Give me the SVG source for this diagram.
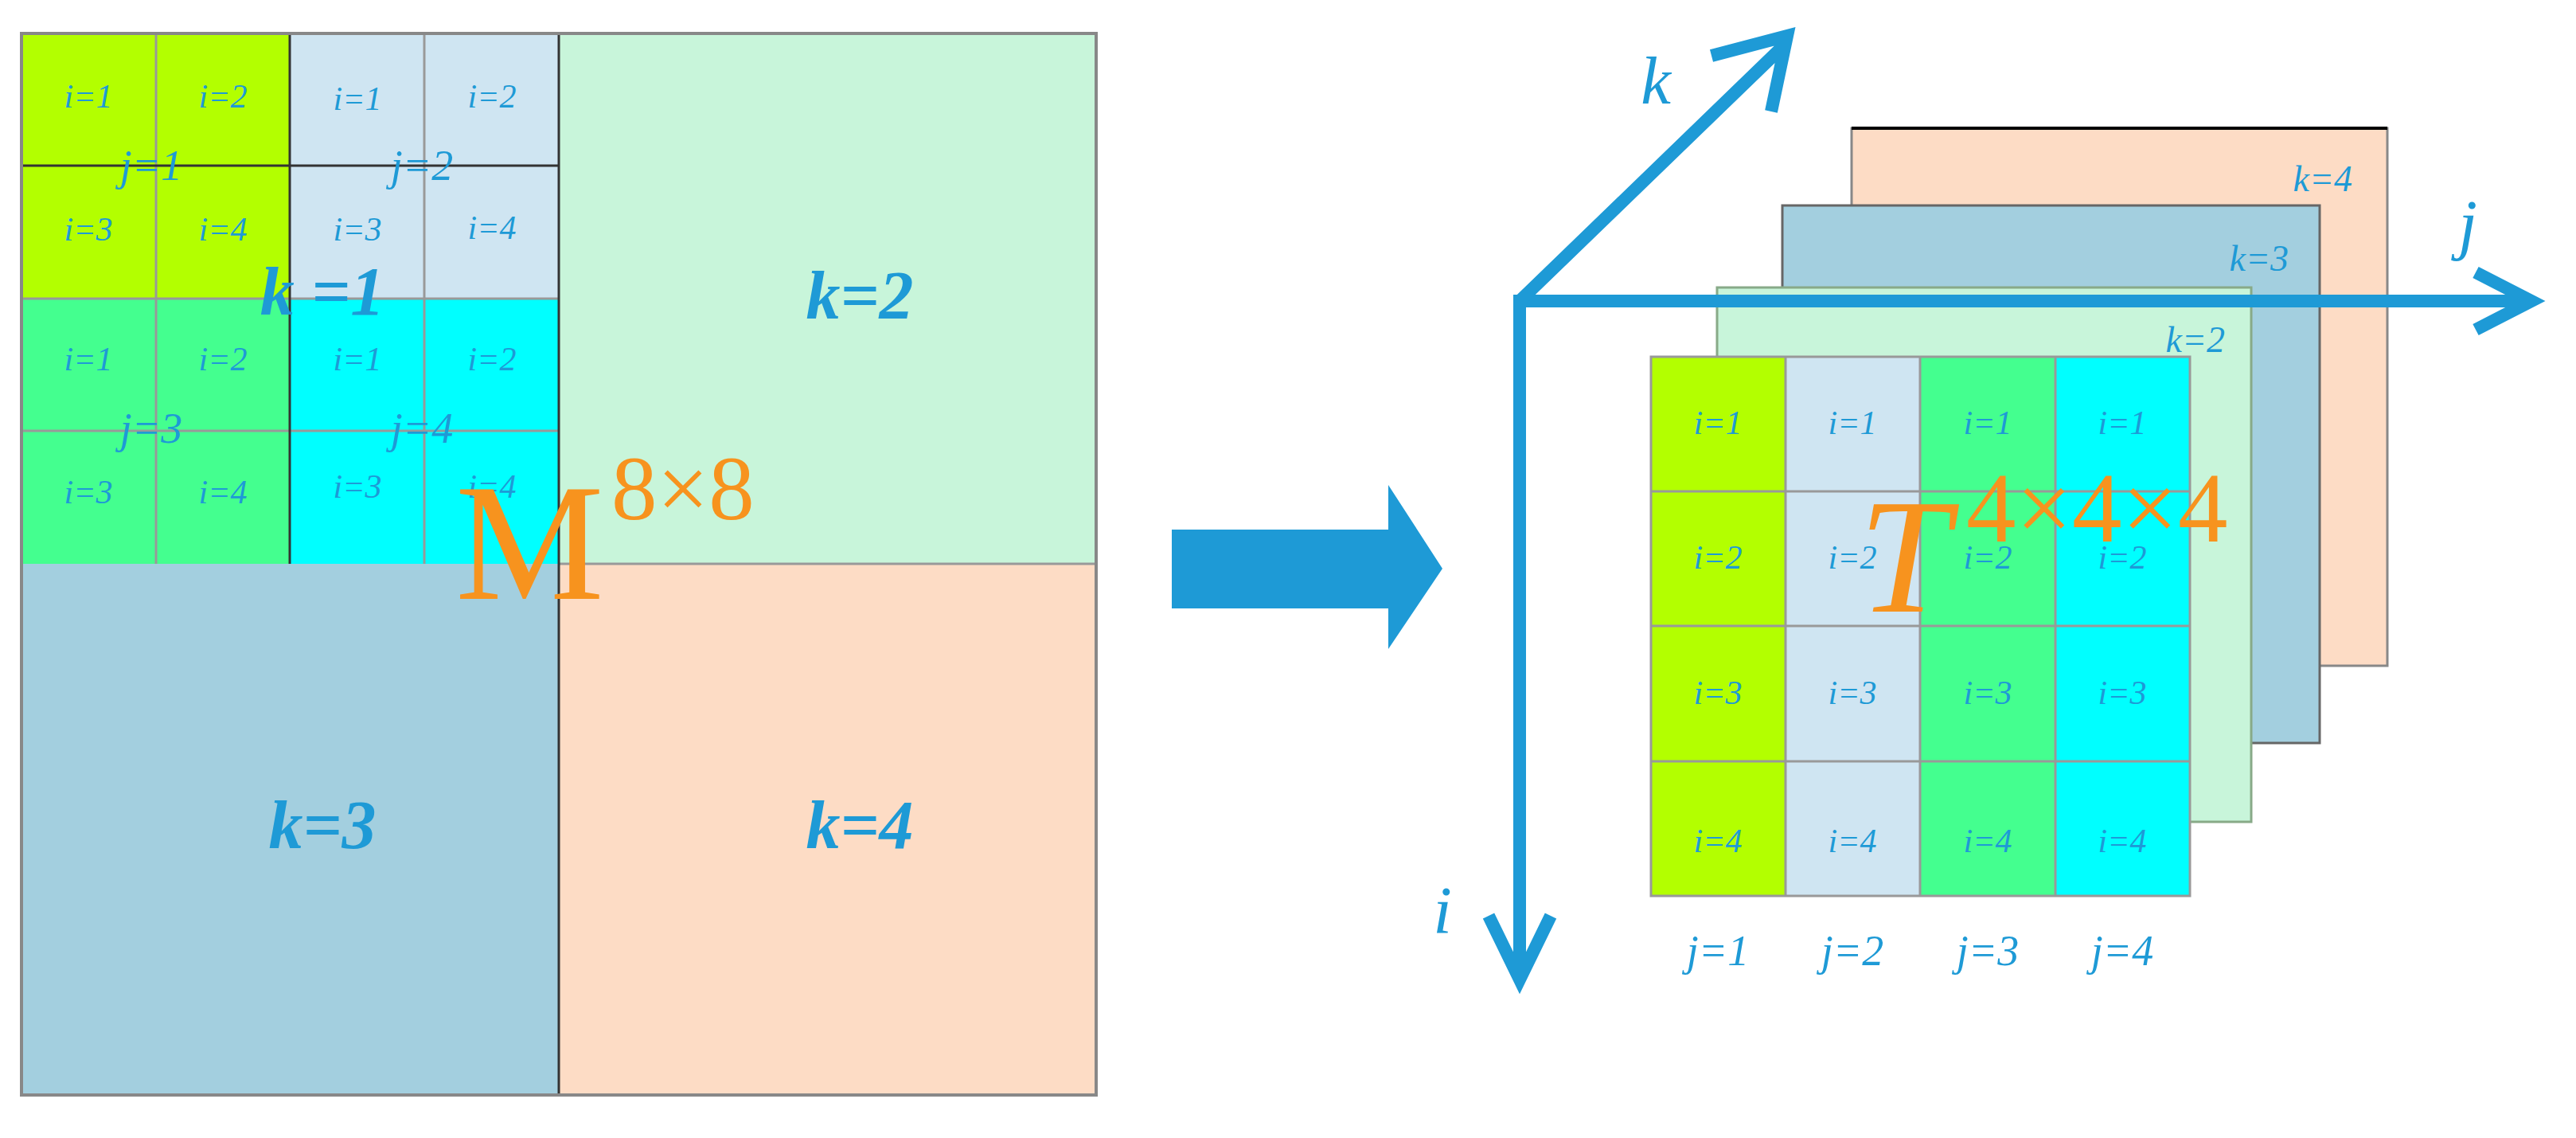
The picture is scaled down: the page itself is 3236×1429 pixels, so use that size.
<svg xmlns="http://www.w3.org/2000/svg" width="3236" height="1429" viewBox="0 0 3236 1429">
<style>
.t{font-family:"Liberation Serif",serif;font-style:italic;fill:#1E9AD6;text-anchor:middle}
.s{font-size:42px}.m{font-size:54px}.b{font-size:86px;font-weight:bold}
.o{font-family:"Liberation Serif",serif;fill:#F7931E}
.g{stroke:#999;stroke-width:3;fill:none}
.d{stroke:#333;stroke-width:3;fill:none}
</style>
<rect width="3236" height="1429" fill="#fff"/>
<g id="matrix">
<rect x="27" y="42" width="675" height="666" fill="#C8F5DA"/>
<rect x="702" y="42" width="675" height="666" fill="#C8F5DA"/>
<rect x="27" y="708" width="675" height="667" fill="#A3CFDF"/>
<rect x="702" y="708" width="675" height="667" fill="#FDDCC5"/>
<rect x="27" y="42" width="337" height="333" fill="#B3FF00"/>
<rect x="364" y="42" width="338" height="333" fill="#CFE5F2"/>
<rect x="27" y="375" width="337" height="333" fill="#44FF8F"/>
<rect x="364" y="375" width="338" height="333" fill="#00FFFF"/>
<path class="g" d="M196 42V708M533 42V708M27 541H702M27 375H702M702 708H1377"/>
<path class="d" d="M27 208H702M364 42V708M702 42V1375"/>
<rect x="27" y="42" width="1350" height="1333" fill="none" stroke="#888" stroke-width="4"/>
<g class="t s">
<text x="111" y="135">i=1</text><text x="280" y="135">i=2</text><text x="449" y="138">i=1</text><text x="618" y="135">i=2</text>
<text x="111" y="302">i=3</text><text x="280" y="302">i=4</text><text x="449" y="302">i=3</text><text x="618" y="300">i=4</text>
<text x="111" y="465">i=1</text><text x="280" y="465">i=2</text><text x="449" y="465">i=1</text><text x="618" y="465">i=2</text>
<text x="111" y="632">i=3</text><text x="280" y="632">i=4</text><text x="449" y="625">i=3</text><text x="618" y="625">i=4</text>
</g>
<g class="t m">
<text x="190" y="226">j=1</text><text x="530" y="226">j=2</text>
<text x="190" y="556">j=3</text><text x="530" y="556">j=4</text>
</g>
<g class="t b">
<text x="405" y="395">k =1</text><text x="1080" y="400">k=2</text>
<text x="405" y="1065">k=3</text><text x="1080" y="1065">k=4</text>
</g>
<text class="o" x="572" y="752" font-size="210">M</text>
<text class="o" x="768" y="652" font-size="115">8×8</text>
</g>
<g id="bigarrow"><path d="M1472 665H1744V609L1812 714L1744 815V764H1472Z" fill="#1E9AD6"/></g>
<g id="planes">
<rect x="2326" y="161" width="673" height="675" fill="#FDDCC5" stroke="#888" stroke-width="3"/>
<path d="M2326 161H2999" stroke="#000" stroke-width="4"/>
<rect x="2239" y="258" width="675" height="675" fill="#A3CFDF" stroke="#666" stroke-width="3"/>
<rect x="2157" y="361" width="671" height="671" fill="#C8F5DA" stroke="#8a8" stroke-width="3"/>
<g class="t" style="text-anchor:end;font-size:46px">
<text x="2955" y="240">k=4</text><text x="2875" y="340">k=3</text><text x="2795" y="442">k=2</text>
</g>
</g>
<g id="front">
<rect x="2074" y="448" width="169" height="677" fill="#B3FF00"/>
<rect x="2243" y="448" width="169" height="677" fill="#CFE5F2"/>
<rect x="2412" y="448" width="170" height="677" fill="#44FF8F"/>
<rect x="2582" y="448" width="169" height="677" fill="#00FFFF"/>
<path class="g" d="M2074 617H2751M2074 786H2751M2074 956H2751M2243 448V1125M2412 448V1125M2582 448V1125"/>
<rect x="2074" y="448" width="677" height="677" fill="none" stroke="#999" stroke-width="3"/>
<g class="t s">
<text x="2158" y="545">i=1</text><text x="2327" y="545">i=1</text><text x="2497" y="545">i=1</text><text x="2666" y="545">i=1</text>
<text x="2158" y="714">i=2</text><text x="2327" y="714">i=2</text><text x="2497" y="714">i=2</text><text x="2666" y="714">i=2</text>
<text x="2158" y="884">i=3</text><text x="2327" y="884">i=3</text><text x="2497" y="884">i=3</text><text x="2666" y="884">i=3</text>
<text x="2158" y="1070">i=4</text><text x="2327" y="1070">i=4</text><text x="2497" y="1070">i=4</text><text x="2666" y="1070">i=4</text>
</g>
<g class="t m">
<text x="2158" y="1212">j=1</text><text x="2327" y="1212">j=2</text><text x="2497" y="1212">j=3</text><text x="2666" y="1212">j=4</text>
</g>
<text class="o" x="2335" y="768" font-size="205" font-style="italic">T</text>
<text class="o" x="2470" y="680" font-size="125">4×4×4</text>
</g>
<g id="axes" stroke="#1E9AD6" stroke-width="16" fill="none">
<path d="M1909 378H3175M3110 342L3180 378L3110 414"/>
<path d="M1909 370V1228M1870 1150L1909 1230L1948 1150"/>
<path d="M1909 378L2243 55M2150 70L2245 45L2225 140"/>
</g>
<g class="t" font-size="85">
<text x="2080" y="130">k</text><text x="3100" y="310">j</text><text x="1812" y="1172">i</text>
</g>
</svg>
